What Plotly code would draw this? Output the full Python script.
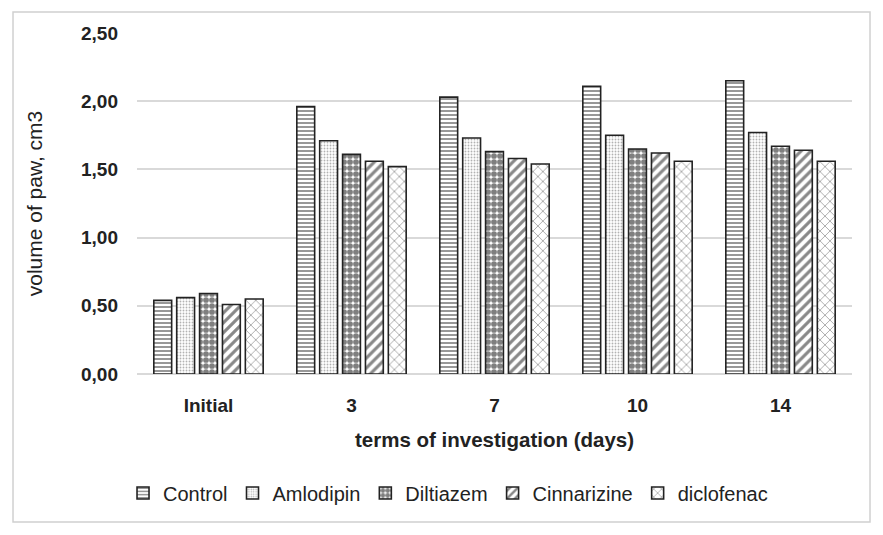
import plotly.graph_objects as go

categories = ["Initial", "3", "7", "10", "14"]
series_names = ["Control", "Amlodipin", "Diltiazem", "Cinnarizine", "diclofenac"]
control = [0.54, 1.96, 2.03, 2.11, 2.15]
amlodipin = [0.56, 1.71, 1.73, 1.75, 1.77]
diltiazem = [0.59, 1.61, 1.63, 1.65, 1.67]
cinnarizine = [0.51, 1.56, 1.58, 1.62, 1.64]
diclofenac = [0.55, 1.52, 1.54, 1.56, 1.56]
values = [control, amlodipin, diltiazem, cinnarizine, diclofenac]
y_ticks = [0, 0.5, 1.0, 1.5, 2.0, 2.5]
y_tick_labels = ["0,00", "0,50", "1,00", "1,50", "2,00", "2,50"]

patterns = [
    dict(shape="-", size=4, solidity=0.45, fgcolor="#1a1a1a", bgcolor="white"),
    dict(shape=".", size=3, solidity=0.3, fgcolor="#666666", bgcolor="white"),
    dict(shape=".", size=6, solidity=0.72, fgcolor="#000000", bgcolor="white"),
    dict(shape="/", size=7, solidity=0.45, fgcolor="#111111", bgcolor="white"),
    dict(shape="x", size=7, solidity=0.25, fgcolor="#555555", bgcolor="white"),
]

fig = go.Figure()
for name, vals, pat in zip(series_names, values, patterns):
    fig.add_trace(go.Bar(
        x=categories, y=vals, name=name,
        marker=dict(color="white", pattern=pat,
                    line=dict(color="#222222", width=1.6)),
    ))

font_family = "Liberation Sans, Arial, sans-serif"
fig.update_layout(
    width=867, height=519,
    margin=dict(l=129, r=23, t=25, b=153, autoexpand=False),
    paper_bgcolor="white", plot_bgcolor="white",
    barmode="group", bargap=0.2, bargroupgap=0.22,
    font=dict(family=font_family, color="#222222"),
    showlegend=True,
    legend=dict(orientation="h", x=0.435, xanchor="center",
                y=-0.349, yanchor="middle",
                font=dict(size=20, family=font_family, color="#222222"),
                itemwidth=30, traceorder="normal"),
    xaxis=dict(
        tickfont=dict(size=19, family=font_family, color="#222222", weight="bold"),
        ticklabelstandoff=18,
        title=dict(text="<b>terms of investigation (days)</b>", font=dict(size=20.5, color="#222222"), standoff=17),
        showline=False, ticks="", showgrid=False,
    ),
    yaxis=dict(
        range=[0, 2.5], tickvals=y_ticks, ticktext=y_tick_labels,
        tickfont=dict(size=19, family=font_family, color="#222222", weight="bold"),
        ticklabelstandoff=18,
        title=dict(text="volume of paw, cm3", font=dict(size=21, color="#222222"), standoff=32),
        showgrid=True, gridcolor="#d9d9d9", gridwidth=1.5,
        zeroline=True, zerolinecolor="#d9d9d9", zerolinewidth=1.5,
        showline=False, ticks="",
    ),
)
fig.add_shape(type="rect", xref="paper", yref="paper",
              x0=-0.1734, x1=1.0252, y0=-0.434, y1=1.0616,
              line=dict(color="#d0d0d0", width=1.5), fillcolor="rgba(0,0,0,0)", layer="below")

fig.write_html("out.html")
